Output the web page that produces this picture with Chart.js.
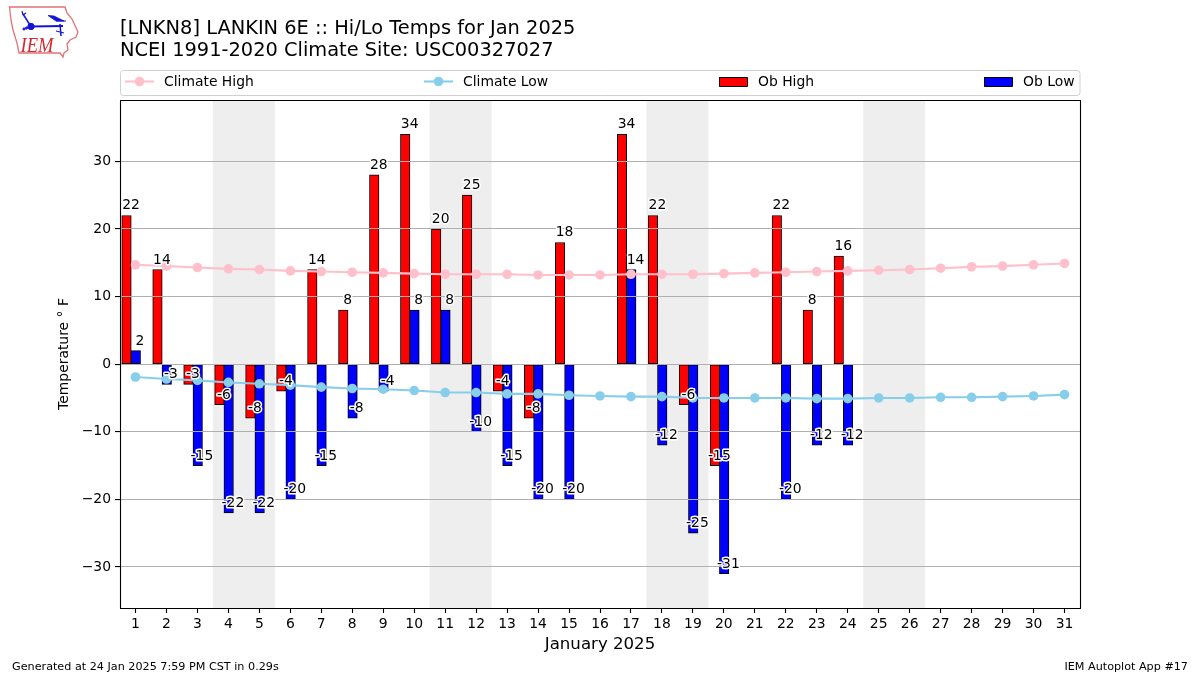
<!DOCTYPE html>
<html>
<head>
<meta charset="utf-8">
<style>
  html, body { margin: 0; padding: 0; background: #fff; }
  #wrap { position: relative; width: 1200px; height: 675px; overflow: hidden; }
  #myChart { position: absolute; left: 0; top: 0; }
  #logo { position: absolute; left: 0; top: 0; }
  .pie { position: absolute; top: 660px; font: 11.2px "DejaVu Sans"; color: #000; white-space: nowrap; }
</style>
<script src="https://cdn.jsdelivr.net/npm/chart.js@4"></script>
</head>
<body>
<div id="wrap">
  <canvas id="myChart" width="1200" height="675"></canvas>
  <svg id="logo" width="90" height="62">
    <polygon points="9.5,7 65,7 67,13 72,19 78,32 76,37 70,40 67,44 68,50 64,53 63,57 60,53 19,53 17,43 13,30 11,20" fill="#fff" stroke="#e27377" stroke-width="1.3"/>
    <g stroke="#1414d8" fill="#1414d8">
      <line x1="31" y1="26.5" x2="63" y2="26" stroke-width="2"/>
      <circle cx="31" cy="26.5" r="3.2"/>
      <line x1="23" y1="14" x2="30" y2="25" stroke-width="1.5"/>
      <line x1="22" y1="11" x2="23" y2="15" stroke-width="1.2"/>
      <line x1="26" y1="13" x2="23" y2="15" stroke-width="1.2"/>
      <polygon points="48,15.5 54,16 64,21 56,21" stroke-width="0.8"/>
      <line x1="56" y1="21" x2="66" y2="21" stroke-width="1"/>
      <line x1="60" y1="24" x2="61" y2="36" stroke-width="1.5"/>
      <line x1="56" y1="31" x2="64" y2="33" stroke-width="1.2"/>
      <circle cx="24" cy="29" r="1.1"/>
      <circle cx="26.5" cy="28" r="1.1"/>
    </g>
    <text x="20.5" y="52" font-family="Liberation Serif" font-style="italic" font-size="22" textLength="33" lengthAdjust="spacingAndGlyphs" fill="#d8282f">IEM</text>
  </svg>
  <div class="pie" style="left:12px">Generated at 24 Jan 2025 7:59 PM CST in 0.29s</div>
  <div class="pie" style="right:12px">IEM Autoplot App #17</div>
</div>
<script>
var days = [1,2,3,4,5,6,7,8,9,10,11,12,13,14,15,16,17,18,19,20,21,22,23,24,25,26,27,28,29,30,31];
var climateHigh = [14.7,14.5,14.3,14.1,14.0,13.8,13.7,13.6,13.5,13.4,13.3,13.3,13.3,13.2,13.2,13.2,13.3,13.3,13.3,13.4,13.5,13.6,13.7,13.8,13.9,14.0,14.2,14.4,14.5,14.7,14.9];
var climateLow = [-1.9,-2.2,-2.4,-2.7,-2.9,-3.1,-3.4,-3.6,-3.7,-3.9,-4.2,-4.2,-4.4,-4.4,-4.6,-4.7,-4.8,-4.8,-5.0,-5.0,-5.0,-5.0,-5.1,-5.1,-5.0,-5.0,-4.9,-4.9,-4.8,-4.7,-4.5];
var obHigh = [22,14,-3,-6,-8,-4,14,8,28,34,20,25,-4,-8,18,null,34,22,-6,-15,null,22,8,16,null,null,null,null,null,null,null];
var obLow = [2,-3,-15,-22,-22,-20,-15,-8,-4,8,8,-10,-15,-20,-20,null,14,-12,-25,-31,null,-20,-12,-12,null,null,null,null,null,null,null];
var yTicks = [-30,-20,-10,0,10,20,30];
var weekendStarts = [4,11,18,25];
var titleLines = ['[LNKN8] LANKIN 6E :: Hi/Lo Temps for Jan 2025', 'NCEI 1991-2020 Climate Site: USC00327027'];

var fuente = '"DejaVu Sans"';
Chart.defaults.font.family = fuente;
Chart.defaults.color = '#000';

// the weekend bands go under the grid
var bandas = {
    id: 'bandas',
    beforeDraw: function(chart){
        var c = chart.ctx, x = chart.scales.x, a = chart.chartArea;
        c.save();
        c.fillStyle = '#eeeeee';
        weekendStarts.forEach(function(d){
            var x0 = x.getPixelForValue(d - 0.5);
            var x1 = x.getPixelForValue(d + 1.5);
            c.fillRect(x0, a.top, x1 - x0, a.bottom - a.top);
        });
        c.restore();
    }
};

// value labels, frame and legend
var extras = {
    id: 'extras',
    afterDraw: function(chart){
        var c = chart.ctx, x = chart.scales.x, y = chart.scales.y, a = chart.chartArea;
        c.save();

        c.font = '13.9px ' + fuente;
        c.textAlign = 'center';
        c.textBaseline = 'alphabetic';
        c.lineJoin = 'round';
        function etiqueta(valores, dx){
            valores.forEach(function(v, i){
                if(v === null) return;
                var px = x.getPixelForValue(days[i]) + dx;
                var py = y.getPixelForValue(v) - 6;
                c.lineWidth = 3;
                c.strokeStyle = '#fff';
                c.strokeText(v, px, py);
                c.fillStyle = '#000';
                c.fillText(v, px, py);
            });
        }
        etiqueta(obHigh, -4.5);
        etiqueta(obLow, 4.5);

        // frame
        c.strokeStyle = '#000';
        c.lineWidth = 1.1;
        c.strokeRect(a.left + 0.5, a.top + 0.5, a.right - a.left, a.bottom - a.top);

        // legend
        c.beginPath();
        c.roundRect(120.5, 70.5, 959.5, 25, 3);
        c.strokeStyle = '#d0d0d0';
        c.lineWidth = 1;
        c.stroke();
        c.textAlign = 'left';
        c.textBaseline = 'middle';
        var posiciones = [125, 424, 719, 984];
        chart.data.datasets.forEach(function(ds, i){
            var lx = posiciones[i];
            if(ds.type === 'line'){
                c.strokeStyle = ds.borderColor;
                c.lineWidth = 2.1;
                c.beginPath();
                c.moveTo(lx, 81.5);
                c.lineTo(lx + 29, 81.5);
                c.stroke();
                c.fillStyle = ds.borderColor;
                c.beginPath();
                c.arc(lx + 14.5, 81.5, 4.8, 0, Math.PI * 2);
                c.fill();
            }else{
                c.fillStyle = ds.backgroundColor;
                c.fillRect(lx, 77, 28, 9.5);
                c.strokeStyle = '#000';
                c.lineWidth = 1;
                c.strokeRect(lx + 0.5, 77.5, 28, 9);
            }
            c.fillStyle = '#000';
            c.fillText(ds.label, lx + 39, 82.5);
        });
        c.restore();
    }
};

var datosChart = {
    datasets: [{
        type: 'line',
        label: 'Climate High',
        borderColor: 'pink',
        backgroundColor: 'pink',
        borderWidth: 2.1,
        pointRadius: 4.8,
        pointBorderWidth: 0,
        order: 0,
        data: days.map(function(d, i){ return {x: d, y: climateHigh[i]}; })
    },{
        type: 'line',
        label: 'Climate Low',
        borderColor: 'skyblue',
        backgroundColor: 'skyblue',
        borderWidth: 2.1,
        pointRadius: 4.8,
        pointBorderWidth: 0,
        order: 1,
        data: days.map(function(d, i){ return {x: d, y: climateLow[i]}; })
    },{
        type: 'bar',
        label: 'Ob High',
        backgroundColor: '#ff0000',
        borderColor: '#000',
        borderWidth: 1,
        borderSkipped: false,
        barThickness: 9.5,
        grouped: false,
        order: 3,
        data: days.map(function(d, i){ return {x: d - 0.29, y: obHigh[i]}; })
    },{
        type: 'bar',
        label: 'Ob Low',
        backgroundColor: '#0000ff',
        borderColor: '#000',
        borderWidth: 1,
        borderSkipped: false,
        barThickness: 9.5,
        grouped: false,
        order: 2,
        data: days.map(function(d, i){ return {x: d + 0.01, y: obLow[i]}; })
    }]
};

new Chart(document.getElementById('myChart'), {
    data: datosChart,
    plugins: [bandas, extras],
    options: {
        responsive: false,
        animation: false,
        devicePixelRatio: 1,
        layout: { padding: { left: 56, right: 120, top: 0, bottom: 17 } },
        plugins: {
            legend: { display: false },
            tooltip: { enabled: false },
            title: {
                display: true,
                text: titleLines,
                align: 'start',
                fullSize: false,
                color: '#000',
                font: { size: 19.4, weight: 'normal', lineHeight: 1.134 },
                padding: { top: 18, bottom: 38 }
            }
        },
        scales: {
            x: {
                type: 'linear',
                min: 0.5,
                max: 31.5,
                offset: false,
                afterBuildTicks: function(s){ s.ticks = days.map(function(d){ return {value: d}; }); },
                afterFit: function(s){ s.height = 50; },
                grid: { drawOnChartArea: false, offset: false, tickLength: 5, tickColor: '#000', tickWidth: 1.1 },
                border: { display: false },
                ticks: { autoSkip: false, maxRotation: 0, padding: 3, font: { size: 13.9 }, callback: function(v){ return v; } },
                title: { display: true, text: 'January 2025', font: { size: 16.6 }, padding: { top: 2, bottom: 3 } }
            },
            y: {
                min: -36.07,
                max: 39.08,
                afterBuildTicks: function(s){ s.ticks = yTicks.map(function(v){ return {value: v}; }); },
                afterFit: function(s){ s.width = 64; },
                grid: { color: '#b0b0b0', lineWidth: 1.1, z: 1, tickLength: 5, tickColor: '#000', tickWidth: 1.1 },
                border: { display: false },
                ticks: { padding: 4, font: { size: 13.9 }, callback: function(v){ return String(v).replace('-', '\u2212'); } },
                title: { display: true, text: 'Temperature ° F', font: { size: 13.9 }, padding: { top: 0, bottom: 0 } }
            }
        }
    }
});
</script>
</body>
</html>
